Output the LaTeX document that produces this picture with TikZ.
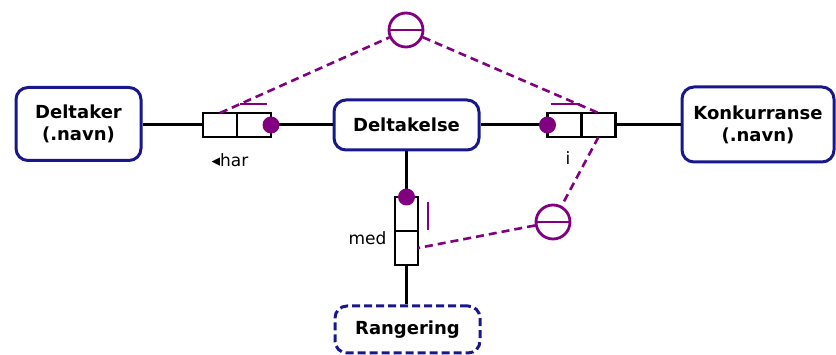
\documentclass[tikz,border=0pt]{standalone}
\usepackage{fontspec}
\setmainfont{DejaVu Sans}
\usetikzlibrary{positioning}
\definecolor{navyline}{RGB}{24,24,140}
\definecolor{ormpurple}{RGB}{128,0,128}

\begin{document}
\begin{tikzpicture}[x=1pt,y=-1pt,
        entity/.style={draw=navyline,line width=3pt,rounded corners=12pt,
            align=center,font=\fontsize{18}{22}\selectfont\bfseries,inner sep=0pt},
        role/.style={draw,line width=2.5pt,fill=white,minimum width=34pt,minimum height=24pt,
            inner sep=0pt,outer sep=0pt},
        vrole/.style={role,minimum width=23pt,minimum height=34pt},
        dot/.style={circle,fill=ormpurple,inner sep=0pt,minimum size=17pt},
        excl/.style={circle,draw=ormpurple,line width=2.8pt,minimum size=34pt,inner sep=0pt},
        link/.style={line width=3pt},
        constr/.style={ormpurple,line width=2.6pt,dash pattern=on 8pt off 5pt},
        bar/.style={ormpurple,line width=2.6pt},
        lbl/.style={font=\fontsize{17}{20}\selectfont}]
    \useasboundingbox (0,0) rectangle (836,355);

    % entity types
    \node[entity,minimum width=125pt,minimum height=73pt] (deltaker) at (78.5,124) {Deltaker\\(.navn)};
    \node[entity,minimum width=145pt,minimum height=50pt] (deltakelse) at (406.5,125) {Deltakelse};
    \node[entity,minimum width=152pt,minimum height=75pt] (konk) at (758,124.5) {Konkurranse\\(.navn)};
    \node[entity,dashed,dash pattern=on 8pt off 4pt,minimum width=145pt,minimum height=47pt] (rang) at (407.5,329.5) {Rangering};

    % roles
    \node[role] (harA) at (220,125) {};
    \node[role,right=0pt of harA] (harB) {};
    \node[role] (iA) at (564.5,125) {};
    \node[role,right=0pt of iA] (iB) {};
    \node[vrole] (medA) at (406.5,214) {};
    \node[vrole,below=0pt of medA] (medB) {};

    \draw[link] (deltaker.east |- harA.west) -- (harA.west);
    \draw[link] (harB.east) -- (deltakelse.west);
    \draw[link] (deltakelse.east) -- (iA.west);
    \draw[link] (iB.east) -- (konk.west |- iB.east);
    \draw[link] (deltakelse.south) -- (medA.north);
    \draw[link] (medB.south) -- (rang.north -| medB.south);

    % mandatory dots
    \node[dot] (dotHar) at (harB.east) {};
    \node[dot] (dotI) at (iA.west) {};
    \node[dot] (dotMed) at (medA.north) {};

    % uniqueness bars
    \draw[bar] ([xshift=3pt,yshift=9pt]harB.north west) -- ([xshift=-4pt,yshift=9pt]harB.north east);
    \draw[bar] ([xshift=3pt,yshift=9pt]iA.north west) -- ([xshift=-2pt,yshift=9pt]iA.north east);
    \draw[bar] ([xshift=10pt,yshift=-5pt]medA.north east) -- ([xshift=10pt,yshift=1pt]medA.south east);

    % exclusion constraints
    \node[excl] (ex1) at (406,30) {};
    \draw[ormpurple,line width=2.8pt] (ex1.west) -- (ex1.east);
    \node[excl] (ex2) at (553,222) {};
    \draw[ormpurple,line width=2.8pt] (ex2.west) -- (ex2.east);
    \draw[constr] (harA.north) -- (ex1);
    \draw[constr] (ex1) -- (iB.north);
    \draw[constr] (iB.south) -- (ex2);
    \draw[constr] (ex2) -- (medB.east);

    % readings
    \node[lbl] (rdHar) at (230,160) {{\fontsize{17}{17}\selectfont ◂}har};
    \node[lbl] (rdI) at (568,158) {i};
    \node[lbl,anchor=east] (rdMed) at (390,238) {med};
\end{tikzpicture}
\end{document}
